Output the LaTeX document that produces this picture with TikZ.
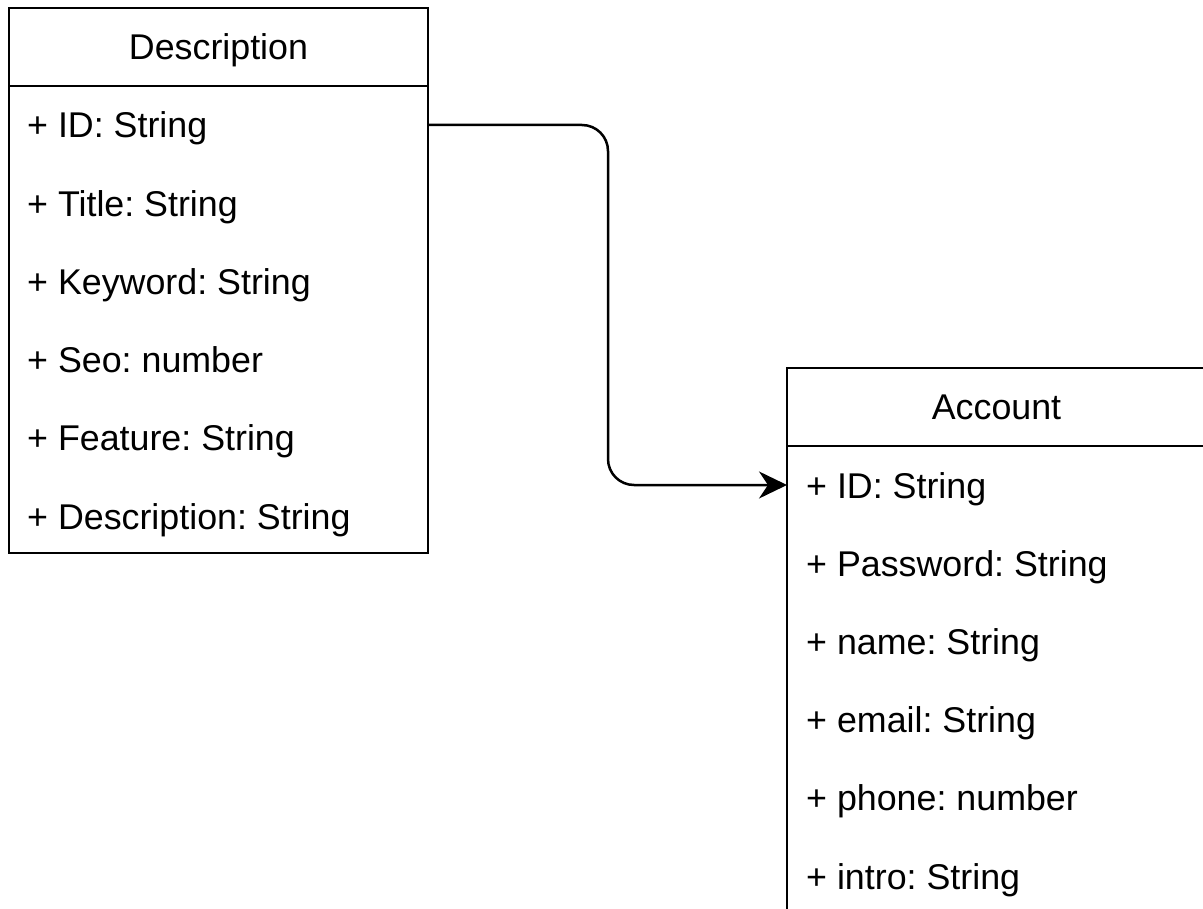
\documentclass[tikz,border=0pt]{standalone}
\usepackage{fontspec}
\setmainfont{Liberation Sans}
\frenchspacing
\usetikzlibrary{calc,arrows.meta}

\tikzset{
  umlbox/.style={draw, line width=2.5pt, minimum width=419pt, minimum height=545pt, inner sep=0pt, outer sep=0pt},
  umltitle/.style={anchor=base, font=\fontsize{35.8}{43}\selectfont, inner sep=0pt},
  umlrow/.style={anchor=base west, font=\fontsize{35.8}{43}\selectfont, inner sep=0pt},
  umllink/.style={line width=2.5pt, rounded corners=26pt, -{Stealth[length=28pt, width=27pt, inset=9pt]}}
}

\begin{document}
\begin{tikzpicture}[x=1pt, y=-1pt]
            \useasboundingbox (0,0) rectangle (1203,909);
            \clip (0,0) rectangle (1203,909);

            \node at (218.5,280.5) [umlbox] (desc) {};
            \draw[line width=2.5pt] (desc.north west) ++(0,78) -- ++(419,0);
            \node at (218.5,59.5) [umltitle] (descTitle) {Description};
            \node at (27,138.0) [umlrow] (dId) {+ ID: String};
            \node at (27,216.2) [umlrow] (dTitle) {+ Title: String};
            \node at (27,294.4) [umlrow] (dKeyword) {+ Keyword: String};
            \node at (27,372.6) [umlrow] (dSeo) {+ Seo: number};
            \node at (27,450.8) [umlrow] (dFeature) {+ Feature: String};
            \node at (27,529.0) [umlrow] (dDesc) {+ Description: String};

            \node at (996.5,640.5) [umlbox] (acc) {};
            \draw[line width=2.5pt] (acc.north west) ++(0,78) -- ++(419,0);
            \node at (996.5,419.5) [umltitle] (accTitle) {Account};
            \node at (806,498.0) [umlrow] (aId) {+ ID: String};
            \node at (806,576.2) [umlrow] (aPassword) {+ Password: String};
            \node at (806,654.4) [umlrow] (aName) {+ name: String};
            \node at (806,732.6) [umlrow] (aEmail) {+ email: String};
            \node at (806,810.8) [umlrow] (aPhone) {+ phone: number};
            \node at (806,889.0) [umlrow] (aIntro) {+ intro: String};

            \draw[umllink] ($(desc.east |- dId.base)+(0,-13)$) -- ++(180,0) |- ($(acc.west |- aId.base)+(0,-13)$);
\end{tikzpicture}
\end{document}
